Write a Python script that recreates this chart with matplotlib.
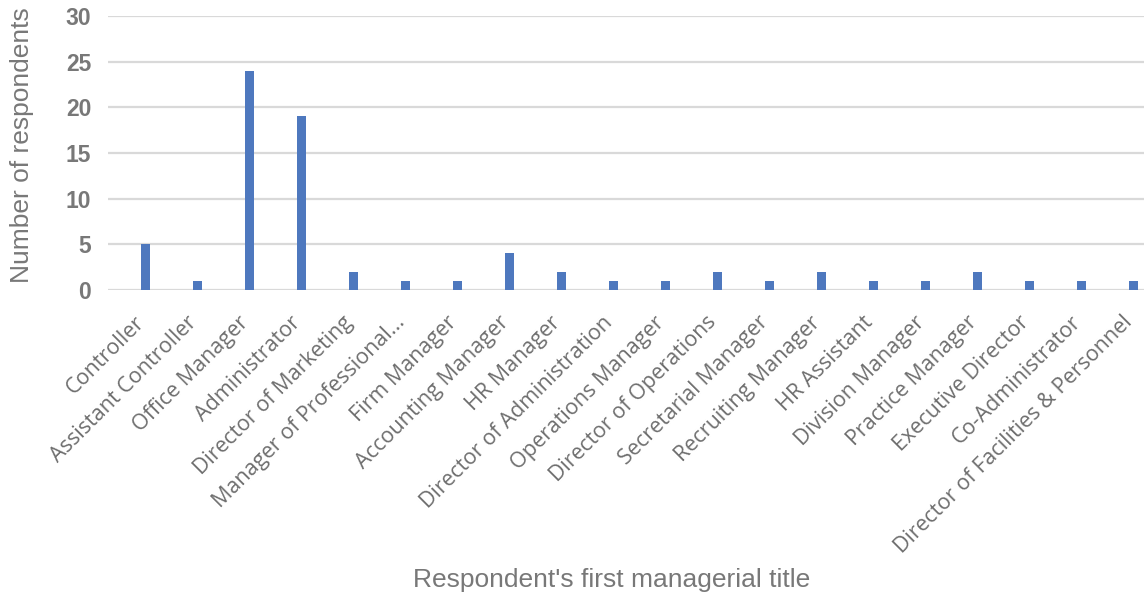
import numpy as np
import matplotlib
matplotlib.use('Agg')
import matplotlib.pyplot as plt

titles = ["Controller", "Assistant Controller", "Office Manager", "Administrator",
          "Director of Marketing", "Manager of Professional...", "Firm Manager",
          "Accounting Manager", "HR Manager", "Director of Administration",
          "Operations Manager", "Director of Operations", "Secretarial Manager",
          "Recruiting Manager", "HR Assistant", "Division Manager", "Practice Manager",
          "Executive Director", "Co-Administrator", "Director of Facilities & Personnel"]
counts = [5, 1, 24, 19, 2, 1, 1, 4, 2, 1, 1, 2, 1, 2, 1, 1, 2, 1, 1, 1]
yticks = [0, 5, 10, 15, 20, 25, 30]

W, H = 1144, 598
fig = plt.figure(figsize=(W / 100, H / 100), dpi=100)
# plot area in pixels: left 108, right 1144, top 16 (30), bottom 290 (0)
ax = fig.add_axes([108 / W, 1 - 290 / H, (1144 - 108) / W, (290 - 16) / H])

x = np.arange(len(titles))
ax.bar(x, counts, width=0.17, color="#4E78BE", zorder=3)

ax.set_ylim(0, 30)
ax.set_xlim((108 - 145.5) / 52, (1144 - 145.5) / 52)
ax.set_yticks(yticks)
ax.yaxis.grid(True, color="#D9D9D9", linewidth=1.6, zorder=0)
for s in ax.spines.values():
    s.set_visible(False)
ax.axhline(0, color="#D9D9D9", linewidth=1.8, zorder=2)

ax.tick_params(axis="y", length=0, pad=12)
for lab in ax.get_yticklabels():
    lab.set_fontfamily("Liberation Sans")
    lab.set_fontweight("bold")
    lab.set_fontsize(16.5)
    lab.set_color("#787878")

ax.set_xticks(x)
ax.set_xticklabels(titles, rotation=45, ha="right", va="baseline",
                   rotation_mode="anchor", family="Open Sans", fontsize=15.5,
                   color="#6E6E6E")
ax.tick_params(axis="x", length=0, pad=24)

fig.text(22 / W, 1 - 145 / H, "Number of respondents", rotation=90,
         ha="center", va="center", family="Liberation Sans", fontsize=19,
         color="#787878")
fig.text(612 / W, 1 - 580 / H, "Respondent's first managerial title",
         ha="center", va="center", family="Liberation Sans", fontsize=19,
         color="#787878")

fig.savefig("out.png", dpi=100)
